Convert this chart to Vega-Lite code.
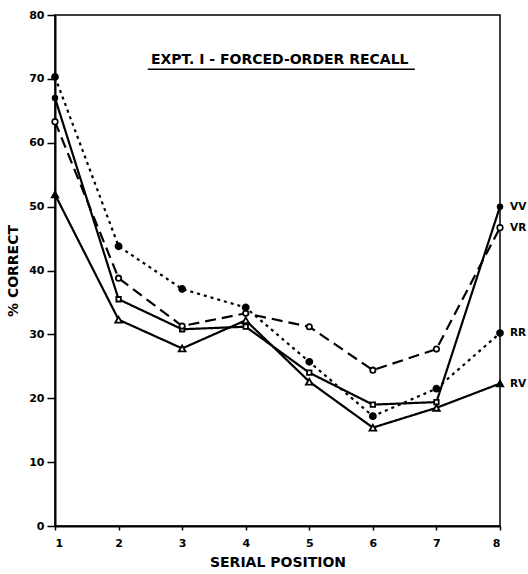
{
  "$schema": "https://vega.github.io/schema/vega-lite/v6.json",
  "width": 445,
  "height": 511,
  "autosize": {"type": "none"},
  "padding": {"left": 55, "top": 15, "right": 28, "bottom": 48},
  "background": "white",
  "config": {
    "view": {"stroke": "black", "strokeWidth": 1.5},
    "font": "DejaVu Sans",
    "axis": {
      "domainColor": "black", "domainWidth": 2, "tickColor": "black", "tickWidth": 1.5,
      "labelColor": "black", "labelFont": "DejaVu Sans", "labelFontWeight": "bold", "labelFontSize": 11,
      "titleColor": "black", "titleFont": "DejaVu Sans", "titleFontWeight": "bold", "titleFontSize": 14,
      "grid": false
    }
  },
  "datasets": {
    "recall": [
      {"pos": 1, "pct": 67.0, "cond": "VV"}, {"pos": 2, "pct": 35.5, "cond": "VV"}, {"pos": 3, "pct": 30.8, "cond": "VV"}, {"pos": 4, "pct": 31.2, "cond": "VV"},
      {"pos": 5, "pct": 24.0, "cond": "VV"}, {"pos": 6, "pct": 19.0, "cond": "VV"}, {"pos": 7, "pct": 19.4, "cond": "VV"}, {"pos": 8, "pct": 50.0, "cond": "VV"},
      {"pos": 1, "pct": 63.3, "cond": "VR"}, {"pos": 2, "pct": 38.8, "cond": "VR"}, {"pos": 3, "pct": 31.3, "cond": "VR"}, {"pos": 4, "pct": 33.3, "cond": "VR"},
      {"pos": 5, "pct": 31.2, "cond": "VR"}, {"pos": 6, "pct": 24.4, "cond": "VR"}, {"pos": 7, "pct": 27.7, "cond": "VR"}, {"pos": 8, "pct": 46.7, "cond": "VR"},
      {"pos": 1, "pct": 70.3, "cond": "RR"}, {"pos": 2, "pct": 43.8, "cond": "RR"}, {"pos": 3, "pct": 37.1, "cond": "RR"}, {"pos": 4, "pct": 34.2, "cond": "RR"},
      {"pos": 5, "pct": 25.7, "cond": "RR"}, {"pos": 6, "pct": 17.2, "cond": "RR"}, {"pos": 7, "pct": 21.5, "cond": "RR"}, {"pos": 8, "pct": 30.2, "cond": "RR"},
      {"pos": 1, "pct": 51.9, "cond": "RV"}, {"pos": 2, "pct": 32.3, "cond": "RV"}, {"pos": 3, "pct": 27.8, "cond": "RV"}, {"pos": 4, "pct": 32.2, "cond": "RV"},
      {"pos": 5, "pct": 22.6, "cond": "RV"}, {"pos": 6, "pct": 15.4, "cond": "RV"}, {"pos": 7, "pct": 18.5, "cond": "RV"}, {"pos": 8, "pct": 22.3, "cond": "RV"}
    ],
    "caption": [{"label": "EXPT. I - FORCED-ORDER RECALL"}]
  },
  "resolve": {"scale": {"shape": "independent", "size": "independent", "fill": "independent", "strokeWidth": "independent"}},
  "layer": [
    {
      "data": {"name": "recall"},
      "mark": {"type": "line", "color": "black", "strokeWidth": 2.2},
      "encoding": {
        "x": {"field": "pos", "type": "quantitative",
          "scale": {"domain": [1, 8], "nice": false, "zero": false},
          "axis": {"values": [1, 2, 3, 4, 5, 6, 7, 8], "format": "d", "title": "SERIAL  POSITION", "tickSize": 4, "labelPadding": 7, "titlePadding": 7}},
        "y": {"field": "pct", "type": "quantitative",
          "scale": {"domain": [0, 80], "nice": false},
          "axis": {"values": [0, 10, 20, 30, 40, 50, 60, 70, 80], "format": "d", "title": "% CORRECT", "tickSize": 8, "labelPadding": 3, "titlePadding": 8}},
        "detail": {"field": "cond"},
        "strokeDash": {"field": "cond", "type": "nominal", "legend": null,
          "scale": {"domain": ["VV", "VR", "RR", "RV"], "range": [[1, 0], [11, 6], [3, 4], [1, 0]]}}
      }
    },
    {
      "data": {"name": "recall"},
      "transform": [{"filter": "datum.pos > 1 && datum.pos < 8"}],
      "mark": {"type": "point", "filled": true, "stroke": "black", "opacity": 1},
      "encoding": {
        "x": {"field": "pos", "type": "quantitative"},
        "y": {"field": "pct", "type": "quantitative"},
        "shape": {"field": "cond", "type": "nominal", "legend": null,
          "scale": {"domain": ["VV", "VR", "RR", "RV"], "range": ["square", "circle", "circle", "triangle-up"]}},
        "size": {"field": "cond", "type": "nominal", "legend": null,
          "scale": {"domain": ["VV", "VR", "RR", "RV"], "range": [20, 45, 14, 45]}},
        "strokeWidth": {"field": "cond", "type": "nominal", "legend": null,
          "scale": {"domain": ["VV", "VR", "RR", "RV"], "range": [1.8, 1.8, 0.5, 1.8]}},
        "fill": {"field": "cond", "type": "nominal", "legend": null,
          "scale": {"domain": ["VV", "VR", "RR", "RV"], "range": ["white", "white", "black", "white"]}}
      }
    },
    {
      "data": {"name": "recall"},
      "transform": [{"filter": "datum.pos == 1 || datum.pos == 8"}],
      "mark": {"type": "point", "filled": true, "stroke": "black", "strokeWidth": 1.6, "opacity": 1},
      "encoding": {
        "x": {"field": "pos", "type": "quantitative"},
        "y": {"field": "pct", "type": "quantitative"},
        "shape": {"field": "cond", "type": "nominal", "legend": null,
          "scale": {"domain": ["VV", "VR", "RR", "RV"], "range": ["circle", "circle", "circle", "triangle-up"]}},
        "size": {"field": "cond", "type": "nominal", "legend": null,
          "scale": {"domain": ["VV", "VR", "RR", "RV"], "range": [24, 45, 14, 45]}},
        "fill": {"field": "cond", "type": "nominal", "legend": null,
          "scale": {"domain": ["VV", "VR", "RR", "RV"], "range": ["black", "white", "black", "black"]}}
      }
    },
    {
      "data": {"name": "recall"},
      "transform": [{"filter": "datum.pos == 8"}],
      "mark": {"type": "text", "align": "left", "baseline": "middle", "dx": 10, "font": "DejaVu Sans", "fontWeight": "bold", "fontSize": 10.5, "fill": "black"},
      "encoding": {
        "x": {"field": "pos", "type": "quantitative"},
        "y": {"field": "pct", "type": "quantitative"},
        "text": {"field": "cond"}
      }
    },
    {
      "data": {"name": "caption"},
      "mark": {"type": "text", "align": "center", "baseline": "middle", "font": "DejaVu Sans", "fontWeight": "bold", "fontSize": 14, "fill": "black"},
      "encoding": {
        "x": {"datum": 4.535, "type": "quantitative"},
        "y": {"datum": 73.0, "type": "quantitative"},
        "text": {"field": "label"}
      }
    },
    {
      "data": {"name": "caption"},
      "mark": {"type": "rule", "color": "black", "strokeWidth": 1.5},
      "encoding": {
        "x": {"datum": 2.46, "type": "quantitative"},
        "x2": {"datum": 6.66},
        "y": {"datum": 71.5, "type": "quantitative"}
      }
    }
  ]
}
